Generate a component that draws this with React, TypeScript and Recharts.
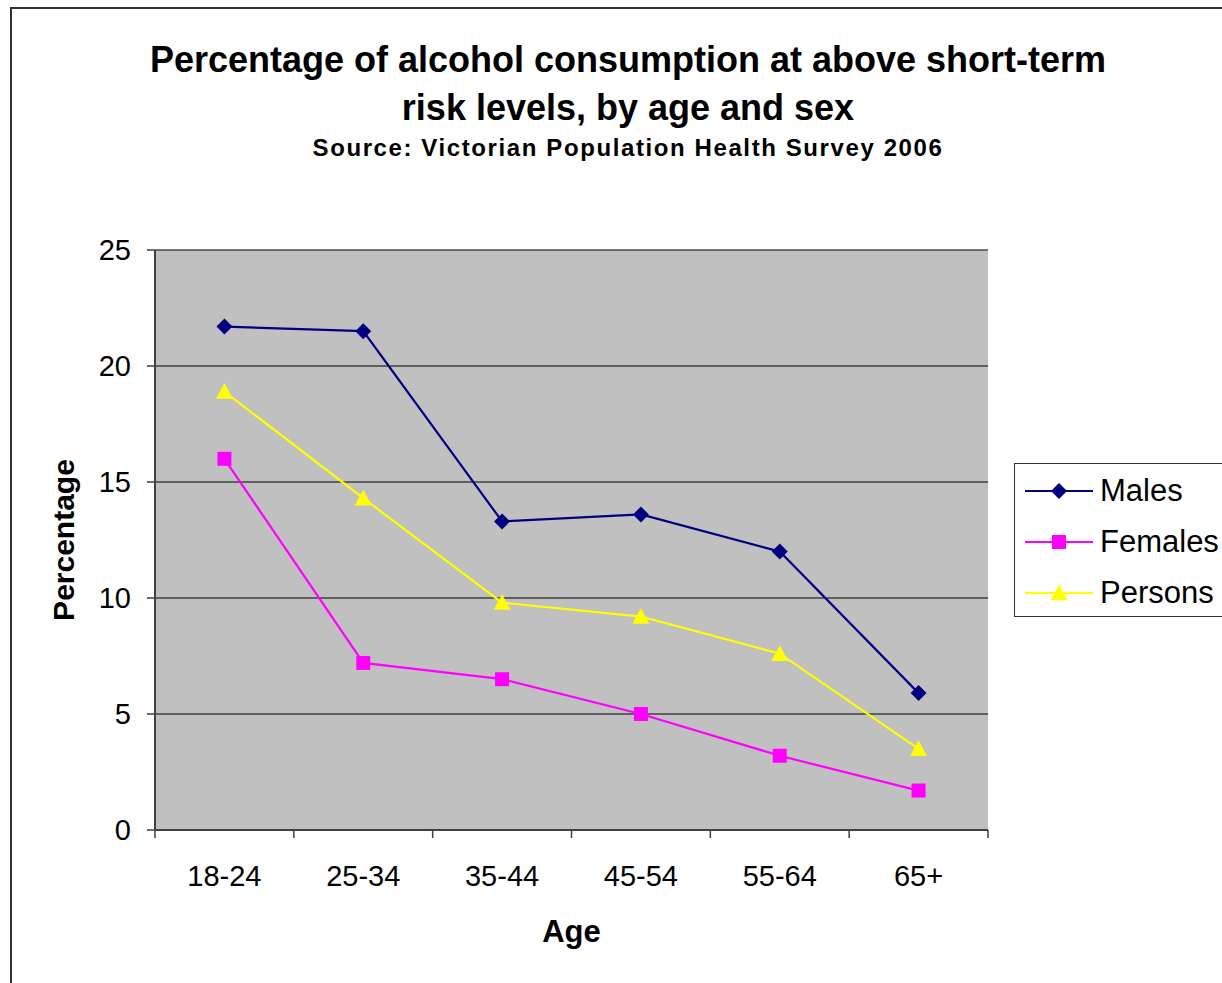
import React from 'react';
import { LineChart, Line, XAxis, YAxis, CartesianGrid } from 'recharts';

const ages = ['18-24', '25-34', '35-44', '45-54', '55-64', '65+'];
const males = [21.7, 21.5, 13.3, 13.6, 12.0, 5.9];
const females = [16.0, 7.2, 6.5, 5.0, 3.2, 1.7];
const persons = [18.9, 14.3, 9.8, 9.2, 7.6, 3.5];
const yTicks = [0, 5, 10, 15, 20, 25];
const xTicks = [0, 1, 2, 3, 4, 5, 6];

const FONT = '"Liberation Sans", Arial, sans-serif';
const W = 1222;
const H = 983;
const PLOT_W = 833;
const BAND = PLOT_W / ages.length;

const data = ages.map((age, i) => ({
  x: i + 0.5,
  age,
  Males: males[i],
  Females: females[i],
  Persons: persons[i],
}));

const Diamond = ({ cx, cy, color, s = 8 }: any) =>
  cx == null ? null : (
    <path d={`M${cx},${cy - s} L${cx + s},${cy} L${cx},${cy + s} L${cx - s},${cy} Z`} fill={color} />
  );
const Square = ({ cx, cy, color, s = 7 }: any) =>
  cx == null ? null : <rect x={cx - s} y={cy - s} width={s * 2} height={s * 2} fill={color} />;
const Triangle = ({ cx, cy, color, s = 8.5 }: any) =>
  cx == null ? null : (
    <path d={`M${cx},${cy - s} L${cx + s},${cy + s * 0.85} L${cx - s},${cy + s * 0.85} Z`} fill={color} />
  );

const series = [
  { key: 'Males', color: '#000080', Marker: Diamond },
  { key: 'Females', color: '#FF00FF', Marker: Square },
  { key: 'Persons', color: '#FFFF00', Marker: Triangle },
];

const AgeTick = ({ x, y, payload }: any) => {
  const v = payload.value;
  if (v >= ages.length) return null;
  return (
    <text x={x + BAND / 2} y={y + 46} textAnchor="middle" fontSize={29} fontFamily={FONT} fill="#000">
      {ages[v]}
    </text>
  );
};

const YLabel = ({ viewBox }: any) => {
  const cx = viewBox.x - 32;
  const cy = viewBox.y + viewBox.height / 2;
  return (
    <text
      x={cx}
      y={cy}
      transform={`rotate(-90 ${cx} ${cy})`}
      textAnchor="middle"
      dominantBaseline="central"
      fontSize={30}
      fontWeight="bold"
      fontFamily={FONT}
      fill="#000"
    >
      Percentage
    </text>
  );
};

const XLabel = ({ viewBox }: any) => (
  <text
    x={viewBox.x + viewBox.width / 2}
    y={viewBox.y + 112}
    textAnchor="middle"
    fontSize={31}
    fontWeight="bold"
    fontFamily={FONT}
    fill="#000"
  >
    Age
  </text>
);

export default function App() {
  return (
    <div style={{ position: 'absolute', left: 0, top: 0, width: W, height: H, overflow: 'hidden', background: '#fff', fontFamily: FONT }}>
      <div style={{ position: 'absolute', left: 10, top: 7, width: 1300, height: 1100, border: '2px solid #333' }} />
      <div style={{ position: 'absolute', left: 0, width: 1256, top: 36, textAlign: 'center', fontSize: 36, fontWeight: 'bold', lineHeight: '48px' }}>
        Percentage of alcohol consumption at above short-term
        <br />
        risk levels, by age and sex
      </div>
      <div style={{ position: 'absolute', left: 0, width: 1256, top: 134, textAlign: 'center', fontSize: 24, fontWeight: 'bold', letterSpacing: 1.6 }}>
        Source: Victorian Population Health Survey 2006
      </div>

      <div style={{ position: 'absolute', left: 0, top: 0 }}>
        <LineChart width={W} height={H} data={data} margin={{ top: 250, right: 234, bottom: 93, left: 95 }}>
          <CartesianGrid vertical={false} fill="#C0C0C0" stroke="#000" strokeWidth={1.2} />
          <XAxis
            type="number"
            dataKey="x"
            domain={[0, 6]}
            ticks={xTicks}
            interval={0}
            tick={<AgeTick />}
            tickSize={8}
            height={60}
            axisLine={{ stroke: '#404040', strokeWidth: 2 }}
            tickLine={{ stroke: '#404040', strokeWidth: 1.5 }}
            label={<XLabel />}
          />
          <YAxis
            domain={[0, 25]}
            ticks={yTicks}
            interval={0}
            width={60}
            tickSize={8}
            tickMargin={16}
            tick={{ fontSize: 29, fill: '#000', fontFamily: FONT }}
            axisLine={{ stroke: '#404040', strokeWidth: 2 }}
            tickLine={{ stroke: '#404040', strokeWidth: 1.5 }}
            label={<YLabel />}
          />
          <YAxis
            yAxisId="r"
            orientation="right"
            domain={[0, 25]}
            width={0}
            tick={false}
            tickLine={false}
            axisLine={{ stroke: '#808080', strokeWidth: 2 }}
          />
          {series.map(({ key, color, Marker }) => (
            <Line
              key={key}
              dataKey={key}
              stroke={color}
              strokeWidth={2.2}
              isAnimationActive={false}
              dot={(p: any) => <Marker key={p.index} cx={p.cx} cy={p.cy} color={color} />}
              activeDot={false}
            />
          ))}
        </LineChart>
      </div>

      <div
        style={{
          position: 'absolute',
          left: 1014,
          top: 463,
          width: 230,
          height: 152,
          border: '1.5px solid #333',
          background: '#fff',
        }}
      >
        {series.map(({ key, color, Marker }, i) => (
          <div key={key} style={{ position: 'absolute', left: 10, top: 9 + i * 51, height: 36, display: 'flex', alignItems: 'center' }}>
            <svg width={70} height={24}>
              <line x1={0} y1={12} x2={68} y2={12} stroke={color} strokeWidth={2} />
              <Marker cx={34} cy={12} color={color} />
            </svg>
            <span style={{ fontSize: 31, marginLeft: 5 }}>{key}</span>
          </div>
        ))}
      </div>
    </div>
  );
}
